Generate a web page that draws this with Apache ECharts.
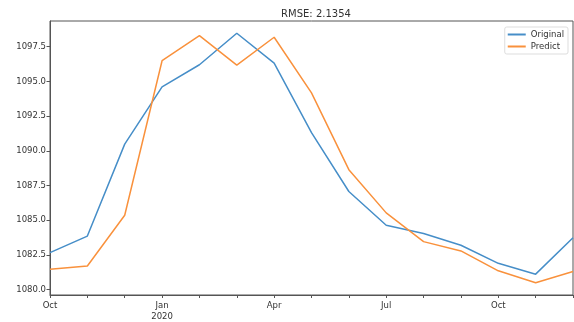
<!DOCTYPE html>
<html><head><meta charset="utf-8">
<script src="https://cdn.jsdelivr.net/npm/echarts@6/dist/echarts.min.js"></script>
<style>html,body{margin:0;padding:0;background:#fff}#c{width:574px;height:322px}</style>
</head><body><div id="c"></div>
<script>
const months = ['Oct','Nov','Dec','Jan','Feb','Mar','Apr','May','Jun','Jul','Aug','Sep','Oct','Nov','Dec'];
const original = [1082.67,1083.86,1090.48,1094.6,1096.19,1098.46,1096.31,1091.3,1087.07,1084.64,1084.05,1083.2,1081.9,1081.12,1083.74];
const predict  = [1081.48,1081.71,1085.36,1096.48,1098.29,1096.17,1098.17,1094.17,1088.64,1085.53,1083.46,1082.79,1081.36,1080.5,1081.31];
const yTicks = [1080.0,1082.5,1085.0,1087.5,1090.0,1092.5,1095.0,1097.5];
const titleText = 'RMSE: 2.1354';

const font = 'DejaVu Sans';
const chart = echarts.init(document.getElementById('c'), null, {renderer:'canvas'});
chart.setOption({
  animation:false,
  backgroundColor:'#fff',
  title:{text:titleText,left:311,top:4,textAlign:'center',
    textStyle:{fontFamily:font,fontSize:10,fontWeight:'normal',color:'#333'}},
  grid:{left:50,right:1,top:21,bottom:25,show:true,borderColor:'#555',borderWidth:1,containLabel:false},
  legend:{orient:'vertical',right:6,top:27,padding:[3,4,3,3],itemGap:3,
    itemWidth:18,itemHeight:2,icon:'rect',
    borderColor:'#ddd',borderWidth:1,borderRadius:2,
    textStyle:{fontFamily:font,fontSize:8.5,color:'#333',lineHeight:9},
    data:['Original','Predict']},
  xAxis:{type:'category',data:months,boundaryGap:false,
    axisLine:{show:true,lineStyle:{color:'#555'}},
    axisTick:{show:true,interval:0,length:3,lineStyle:{color:'#555'}},
    axisLabel:{interval:function(i){return i%3===0;},margin:5,
      fontFamily:font,fontSize:8.5,color:'#333',lineHeight:11,
      formatter:function(v,i){return i===3? v+'\n2020' : v;}},
    splitLine:{show:false}},
  yAxis:{type:'value',min:1079.62,max:1099.34,
    axisLine:{show:true,lineStyle:{color:'#555'}},
    axisTick:{show:true,length:3.5,customValues:yTicks,lineStyle:{color:'#555'}},
    axisLabel:{customValues:yTicks,margin:4,fontFamily:font,fontSize:8.5,color:'#333',
      formatter:function(v){return v.toFixed(1);}},
    splitLine:{show:false}},
  series:[
    {name:'Original',type:'line',data:original,symbol:'none',smooth:false,
      lineStyle:{color:'#468ec8',width:1.5},itemStyle:{color:'#468ec8'}},
    {name:'Predict',type:'line',data:predict,symbol:'none',smooth:false,
      lineStyle:{color:'#f9913c',width:1.5},itemStyle:{color:'#f9913c'}}
  ]
});
</script></body></html>
